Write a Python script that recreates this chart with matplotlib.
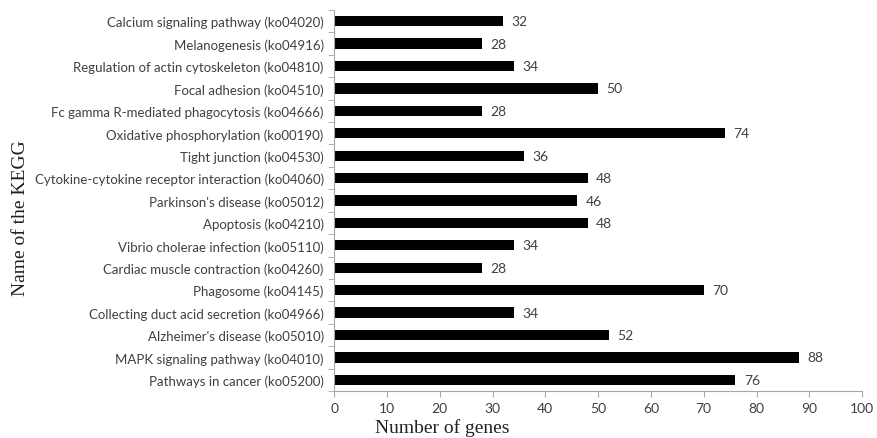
import matplotlib.pyplot as plt
import numpy as np

# Top-to-bottom order as in the figure
PATHWAYS = [
    "Calcium signaling pathway (ko04020)",
    "Melanogenesis (ko04916)",
    "Regulation of actin cytoskeleton (ko04810)",
    "Focal adhesion (ko04510)",
    "Fc gamma R-mediated phagocytosis (ko04666)",
    "Oxidative phosphorylation (ko00190)",
    "Tight junction (ko04530)",
    "Cytokine-cytokine receptor interaction (ko04060)",
    "Parkinson's disease (ko05012)",
    "Apoptosis (ko04210)",
    "Vibrio cholerae infection (ko05110)",
    "Cardiac muscle contraction (ko04260)",
    "Phagosome (ko04145)",
    "Collecting duct acid secretion (ko04966)",
    "Alzheimer's disease (ko05010)",
    "MAPK signaling pathway (ko04010)",
    "Pathways in cancer (ko05200)",
]
GENES = [32, 28, 34, 50, 28, 74, 36, 48, 46, 48, 34, 28, 70, 34, 52, 88, 76]
X_TICKS = [0, 10, 20, 30, 40, 50, 60, 70, 80, 90, 100]

SANS = "Lato"
SERIF = "Liberation Serif"
TEXT = "#404040"
AXIS = "#a6a6a6"


def main():
    fig = plt.figure(figsize=(8.77, 4.39), dpi=100)
    ax = fig.add_axes([0.381, 0.107, 0.602, 0.868])

    n = len(PATHWAYS)
    y = np.arange(n)[::-1]
    ax.barh(y, GENES, height=0.46, color="black")
    for yi, v in zip(y, GENES):
        ax.text(v + 1.6, yi, str(v), va="center", ha="left",
                fontsize=10, color=TEXT, family=SANS)

    ax.set_xlim(0, 100)
    ax.set_ylim(-0.5, n - 0.5)
    ax.set_xticks(X_TICKS)
    ax.set_xticklabels([str(t) for t in X_TICKS], family=SANS, fontsize=10,
                       color=TEXT)
    ax.set_yticks(y)
    ax.set_yticklabels(PATHWAYS, family=SANS, fontsize=9.5, color=TEXT)
    ax.set_yticks(np.arange(n + 1) - 0.5, minor=True)
    ax.tick_params(axis="y", which="major", length=0, pad=7.5)
    ax.tick_params(axis="y", which="minor", length=4, color=AXIS)
    ax.tick_params(axis="x", length=4, color=AXIS, pad=4)

    for side in ("top", "right"):
        ax.spines[side].set_visible(False)
    for side in ("left", "bottom"):
        ax.spines[side].set_color(AXIS)

    ax.set_xlabel("Number of genes", family=SERIF, fontsize=14, color="#202020")
    ax.xaxis.set_label_coords(0.205, -0.072)
    ax.xaxis.label.set_va("top")
    fig.text(0.023, 0.503, "Name of the KEGG", rotation=90, family=SERIF,
             fontsize=14, color="#202020", ha="center", va="center")

    fig.savefig("out.png", dpi=100)
    plt.close(fig)


if __name__ == "__main__":
    main()
